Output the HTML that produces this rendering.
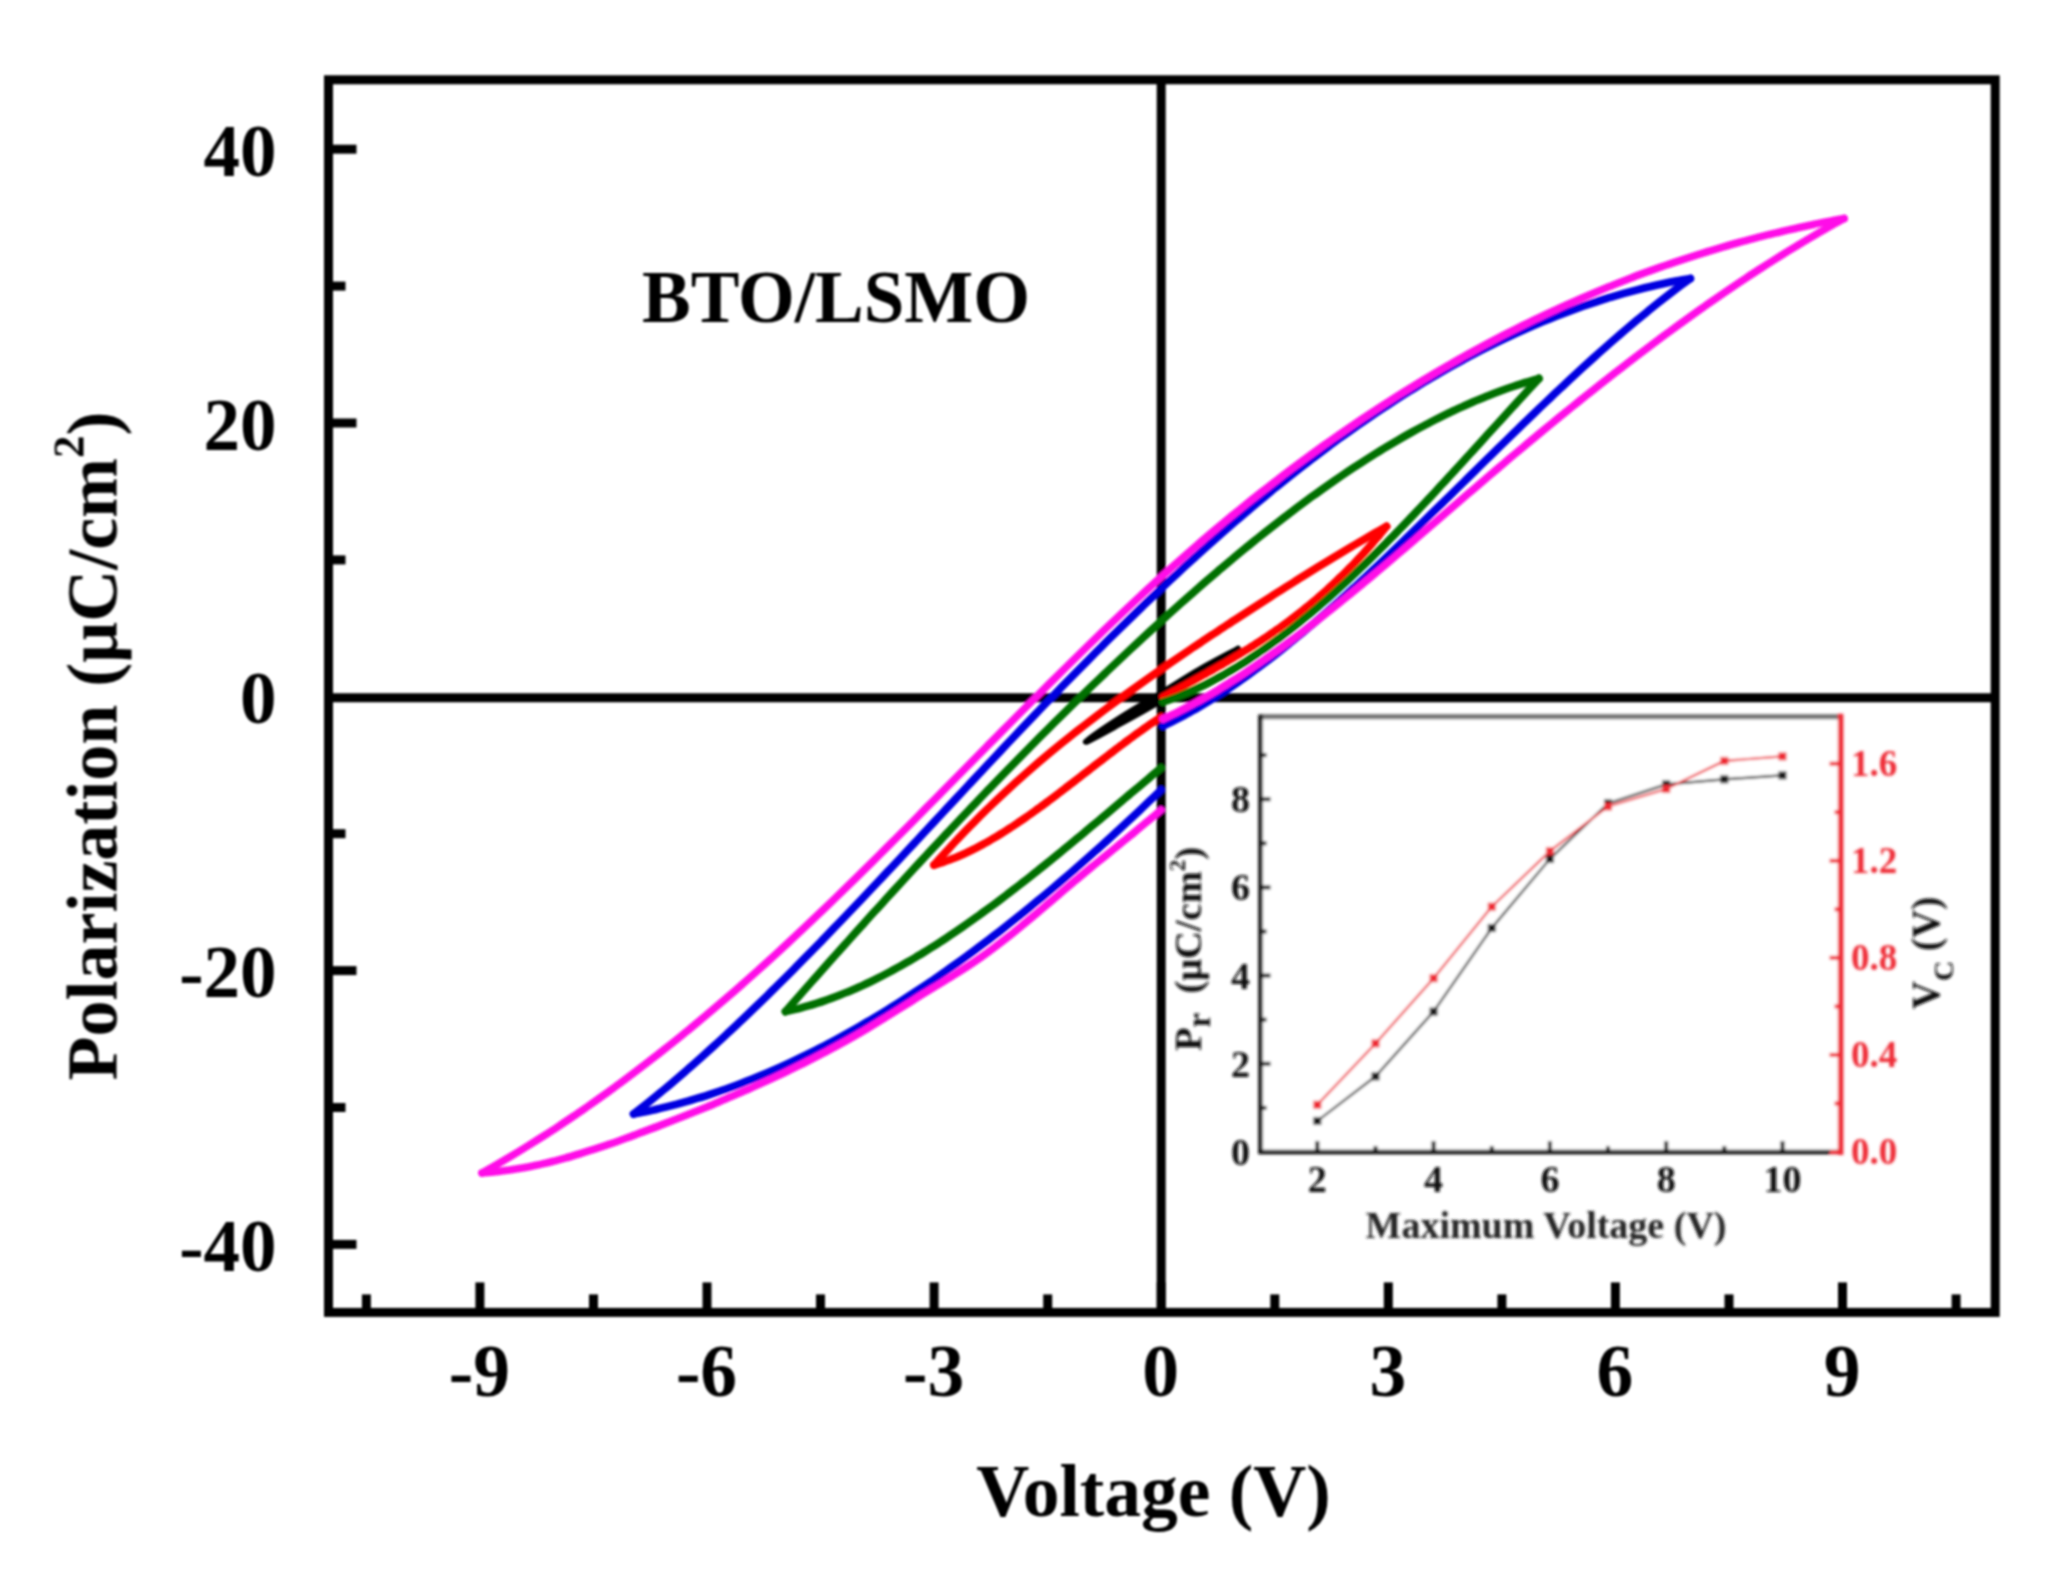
<!DOCTYPE html>
<html lang="en"><head><meta charset="utf-8"><title>BTO/LSMO P-V hysteresis loops</title>
<style>
html,body{margin:0;padding:0;background:#fff;}
body{width:2060px;height:1576px;overflow:hidden;}
svg{display:block;}
</style></head><body>
<svg width="2060" height="1576" viewBox="0 0 2060 1576">
<defs><filter id="b1" x="-2%" y="-2%" width="104%" height="104%"><feGaussianBlur stdDeviation="1.15"/></filter><filter id="b2" x="-5%" y="-5%" width="110%" height="110%"><feGaussianBlur stdDeviation="1.7"/></filter></defs>
<rect width="2060" height="1576" fill="#fff"/>
<g id="main" filter="url(#b1)" font-family="'Liberation Serif', 'DejaVu Serif', serif" font-weight="bold" fill="#000">
<g stroke="#000" stroke-width="9" fill="none">
<line x1="328.5" y1="697.7" x2="1995.2" y2="697.7"/>
<line x1="1161.2" y1="79.8" x2="1161.2" y2="1312.4"/>
<rect x="328.5" y="79.8" width="1666.7" height="1232.6"/>
<line x1="366.4" y1="1312.4" x2="366.4" y2="1294.4"/>
<line x1="479.9" y1="1312.4" x2="479.9" y2="1282.4"/>
<line x1="593.5" y1="1312.4" x2="593.5" y2="1294.4"/>
<line x1="707.0" y1="1312.4" x2="707.0" y2="1282.4"/>
<line x1="820.5" y1="1312.4" x2="820.5" y2="1294.4"/>
<line x1="934.1" y1="1312.4" x2="934.1" y2="1282.4"/>
<line x1="1047.7" y1="1312.4" x2="1047.7" y2="1294.4"/>
<line x1="1161.2" y1="1312.4" x2="1161.2" y2="1282.4"/>
<line x1="1274.8" y1="1312.4" x2="1274.8" y2="1294.4"/>
<line x1="1388.3" y1="1312.4" x2="1388.3" y2="1282.4"/>
<line x1="1501.9" y1="1312.4" x2="1501.9" y2="1294.4"/>
<line x1="1615.4" y1="1312.4" x2="1615.4" y2="1282.4"/>
<line x1="1729.0" y1="1312.4" x2="1729.0" y2="1294.4"/>
<line x1="1842.5" y1="1312.4" x2="1842.5" y2="1282.4"/>
<line x1="1956.1" y1="1312.4" x2="1956.1" y2="1294.4"/>
<line x1="328.5" y1="1244.4" x2="356.5" y2="1244.4"/>
<line x1="328.5" y1="1107.5" x2="345.5" y2="1107.5"/>
<line x1="328.5" y1="970.6" x2="356.5" y2="970.6"/>
<line x1="328.5" y1="833.7" x2="345.5" y2="833.7"/>
<line x1="328.5" y1="559.9" x2="345.5" y2="559.9"/>
<line x1="328.5" y1="423.0" x2="356.5" y2="423.0"/>
<line x1="328.5" y1="286.1" x2="345.5" y2="286.1"/>
<line x1="328.5" y1="149.2" x2="356.5" y2="149.2"/>
</g>
<g font-size="73.5" text-anchor="middle">
<text x="479.4" y="1395.5">-9</text>
<text x="706.5" y="1395.5">-6</text>
<text x="933.6" y="1395.5">-3</text>
<text x="1160.7" y="1395.5">0</text>
<text x="1387.8" y="1395.5">3</text>
<text x="1614.9" y="1395.5">6</text>
<text x="1842.0" y="1395.5">9</text>
</g>
<g font-size="73" text-anchor="end">
<text x="276.5" y="1270.9">-40</text>
<text x="276.5" y="997.1">-20</text>
<text x="276.5" y="723.3">0</text>
<text x="276.5" y="449.5">20</text>
<text x="276.5" y="175.7">40</text>
</g>
<text x="1153.6" y="1516" font-size="73.5" text-anchor="middle">Voltage (V)</text>
<text transform="translate(116.5 746) rotate(-90)" font-size="72" text-anchor="middle">Polarization (μC/cm<tspan font-size="45" dy="-33">2</tspan><tspan dy="33">)</tspan></text>
<text x="836" y="321.5" font-size="73" text-anchor="middle">BTO/LSMO</text>
<g id="curves">
<path d="M1238.0 649.0 C1231.7 652.4 1212.8 662.1 1200.0 669.5 C1187.2 676.9 1174.0 685.6 1161.0 693.5 C1148.0 701.4 1134.5 709.0 1122.0 717.0 C1109.5 725.0 1086.0 740.6 1086.0 741.5 C1086.0 742.4 1109.5 729.3 1122.0 722.5 C1134.5 715.7 1148.0 708.2 1161.0 700.5 C1174.0 692.8 1187.2 684.6 1200.0 676.0 C1212.8 667.4 1231.7 653.5 1238.0 649.0" stroke="#000" stroke-width="6.5" stroke-linejoin="round" stroke-linecap="round" fill="#000"/>
<path d="M1386.5 526.4 C1384.6 527.5 1378.8 530.8 1374.9 533.0 C1371.0 535.3 1367.2 537.5 1363.3 539.8 C1359.4 542.0 1355.6 544.3 1351.7 546.6 C1347.8 548.9 1344.0 551.2 1340.1 553.6 C1336.2 555.9 1332.4 558.2 1328.5 560.6 C1324.6 563.0 1320.8 565.3 1316.9 567.7 C1313.0 570.1 1309.1 572.5 1305.3 574.9 C1301.4 577.3 1297.5 579.7 1293.7 582.2 C1289.8 584.6 1285.9 587.1 1282.1 589.5 C1278.2 592.0 1274.3 594.4 1270.5 596.9 C1266.6 599.4 1262.7 601.9 1258.9 604.4 C1255.0 606.9 1251.1 609.4 1247.3 611.9 C1243.4 614.4 1239.5 616.9 1235.7 619.4 C1231.8 621.9 1227.9 624.5 1224.1 627.0 C1220.2 629.5 1216.3 632.1 1212.5 634.6 C1208.6 637.2 1204.7 639.8 1200.9 642.4 C1197.0 644.9 1193.1 647.5 1189.3 650.1 C1185.4 652.8 1181.5 655.4 1177.7 658.0 C1173.8 660.6 1169.9 663.3 1166.1 666.0 C1162.2 668.6 1158.3 671.3 1154.4 674.0 C1150.6 676.7 1146.7 679.4 1142.8 682.2 C1139.0 684.9 1135.1 687.7 1131.2 690.5 C1127.4 693.2 1123.5 696.0 1119.6 698.9 C1115.8 701.7 1111.9 704.5 1108.0 707.4 C1104.2 710.3 1100.3 713.2 1096.4 716.1 C1092.6 719.0 1088.7 722.0 1084.8 725.0 C1081.0 727.9 1077.1 731.0 1073.2 734.0 C1069.4 737.1 1065.5 740.2 1061.6 743.3 C1057.8 746.4 1053.9 749.6 1050.0 752.8 C1046.2 756.0 1042.3 759.3 1038.4 762.6 C1034.6 765.9 1030.7 769.2 1026.8 772.6 C1023.0 776.0 1019.1 779.4 1015.2 782.9 C1011.4 786.4 1007.5 790.0 1003.6 793.6 C999.7 797.2 995.9 800.8 992.0 804.5 C988.1 808.2 984.3 812.0 980.4 815.8 C976.5 819.7 972.7 823.6 968.8 827.5 C964.9 831.5 961.1 835.5 957.2 839.6 C953.3 843.7 949.5 847.9 945.6 852.1 C941.7 856.3 935.9 862.8 934.0 865.0 " fill="none" stroke="#ff0000" stroke-width="7.8" stroke-linejoin="round" stroke-linecap="round" />
<path d="M934.0 865.0 C934.8 864.8 937.1 864.1 938.6 863.6 C940.2 863.2 941.7 862.7 943.3 862.1 C944.8 861.6 946.4 861.1 947.9 860.5 C949.4 859.9 951.0 859.3 952.5 858.7 C954.1 858.1 955.6 857.5 957.2 856.9 C958.7 856.2 960.3 855.5 961.8 854.9 C963.3 854.2 964.9 853.5 966.4 852.7 C968.0 852.0 969.5 851.3 971.1 850.5 C972.6 849.8 974.1 849.0 975.7 848.2 C977.2 847.4 978.8 846.6 980.3 845.8 C981.9 844.9 983.4 844.1 985.0 843.2 C986.5 842.4 988.0 841.5 989.6 840.6 C991.1 839.7 992.7 838.8 994.2 837.9 C995.8 837.0 997.3 836.1 998.9 835.1 C1000.4 834.2 1001.9 833.2 1003.5 832.2 C1005.0 831.3 1006.6 830.3 1008.1 829.3 C1009.7 828.3 1011.2 827.3 1012.8 826.3 C1014.3 825.3 1015.8 824.2 1017.4 823.2 C1018.9 822.1 1020.5 821.1 1022.0 820.0 C1023.6 819.0 1025.1 817.9 1026.7 816.8 C1028.2 815.7 1029.7 814.7 1031.3 813.6 C1032.8 812.5 1034.4 811.4 1035.9 810.2 C1037.5 809.1 1039.0 808.0 1040.6 806.9 C1042.1 805.7 1043.6 804.6 1045.2 803.5 C1046.7 802.3 1048.3 801.2 1049.8 800.0 C1051.4 798.9 1052.9 797.7 1054.4 796.6 C1056.0 795.4 1057.5 794.2 1059.1 793.0 C1060.6 791.9 1062.2 790.7 1063.7 789.5 C1065.3 788.3 1066.8 787.1 1068.3 786.0 C1069.9 784.8 1071.4 783.6 1073.0 782.4 C1074.5 781.2 1076.1 780.0 1077.6 778.8 C1079.2 777.6 1080.7 776.4 1082.2 775.2 C1083.8 774.0 1085.3 772.8 1086.9 771.6 C1088.4 770.4 1090.0 769.2 1091.5 768.0 C1093.1 766.8 1094.6 765.6 1096.1 764.4 C1097.7 763.2 1099.2 762.1 1100.8 760.9 C1102.3 759.7 1103.9 758.5 1105.4 757.3 C1107.0 756.1 1108.5 754.9 1110.0 753.7 C1111.6 752.6 1113.1 751.4 1114.7 750.2 C1116.2 749.0 1117.8 747.9 1119.3 746.7 C1120.9 745.5 1122.4 744.4 1123.9 743.2 C1125.5 742.1 1127.0 740.9 1128.6 739.8 C1130.1 738.6 1131.7 737.5 1133.2 736.4 C1134.7 735.3 1136.3 734.1 1137.8 733.0 C1139.4 731.9 1140.9 730.8 1142.5 729.7 C1144.0 728.6 1145.6 727.5 1147.1 726.4 C1148.6 725.4 1150.2 724.3 1151.7 723.2 C1153.3 722.2 1154.8 721.1 1156.4 720.1 C1157.9 719.0 1160.2 717.5 1161.0 717.0" fill="none" stroke="#ff0000" stroke-width="7.8" stroke-linejoin="round" stroke-linecap="round" />
<path d="M1163.0 697.0 C1163.8 696.6 1166.0 695.3 1167.6 694.5 C1169.1 693.7 1170.6 692.9 1172.1 692.0 C1173.6 691.2 1175.2 690.4 1176.7 689.6 C1178.2 688.7 1179.7 687.9 1181.2 687.1 C1182.8 686.3 1184.3 685.4 1185.8 684.6 C1187.3 683.8 1188.8 683.0 1190.4 682.1 C1191.9 681.3 1193.4 680.5 1194.9 679.6 C1196.4 678.8 1198.0 678.0 1199.5 677.1 C1201.0 676.3 1202.5 675.4 1204.1 674.6 C1205.6 673.7 1207.1 672.9 1208.6 672.0 C1210.1 671.2 1211.7 670.3 1213.2 669.5 C1214.7 668.6 1216.2 667.7 1217.7 666.9 C1219.3 666.0 1220.8 665.1 1222.3 664.3 C1223.8 663.4 1225.3 662.5 1226.9 661.6 C1228.4 660.7 1229.9 659.8 1231.4 658.9 C1232.9 658.0 1234.5 657.1 1236.0 656.2 C1237.5 655.3 1239.0 654.4 1240.5 653.4 C1242.1 652.5 1243.6 651.6 1245.1 650.6 C1246.6 649.7 1248.1 648.7 1249.7 647.8 C1251.2 646.8 1252.7 645.9 1254.2 644.9 C1255.7 643.9 1257.3 642.9 1258.8 641.9 C1260.3 640.9 1261.8 639.9 1263.3 638.9 C1264.9 637.9 1266.4 636.9 1267.9 635.9 C1269.4 634.8 1270.9 633.8 1272.5 632.7 C1274.0 631.7 1275.5 630.6 1277.0 629.6 C1278.6 628.5 1280.1 627.4 1281.6 626.3 C1283.1 625.2 1284.6 624.1 1286.2 623.0 C1287.7 621.9 1289.2 620.7 1290.7 619.6 C1292.2 618.4 1293.8 617.3 1295.3 616.1 C1296.8 614.9 1298.3 613.8 1299.8 612.6 C1301.4 611.4 1302.9 610.2 1304.4 608.9 C1305.9 607.7 1307.4 606.5 1309.0 605.2 C1310.5 604.0 1312.0 602.7 1313.5 601.4 C1315.0 600.1 1316.6 598.9 1318.1 597.5 C1319.6 596.2 1321.1 594.9 1322.6 593.6 C1324.2 592.2 1325.7 590.9 1327.2 589.5 C1328.7 588.1 1330.2 586.7 1331.8 585.3 C1333.3 583.9 1334.8 582.5 1336.3 581.0 C1337.8 579.6 1339.4 578.1 1340.9 576.6 C1342.4 575.2 1343.9 573.7 1345.4 572.2 C1347.0 570.6 1348.5 569.1 1350.0 567.5 C1351.5 566.0 1353.1 564.4 1354.6 562.8 C1356.1 561.2 1357.6 559.6 1359.1 558.0 C1360.7 556.4 1362.2 554.7 1363.7 553.1 C1365.2 551.4 1366.7 549.7 1368.3 548.0 C1369.8 546.3 1371.3 544.5 1372.8 542.8 C1374.3 541.0 1375.9 539.2 1377.4 537.5 C1378.9 535.7 1380.4 533.8 1381.9 532.0 C1383.5 530.2 1385.7 527.3 1386.5 526.4" fill="none" stroke="#ff0000" stroke-width="7.8" stroke-linejoin="round" stroke-linecap="round" />
<path d="M1539.0 378.5 C1536.9 379.1 1530.5 380.9 1526.2 382.2 C1522.0 383.6 1517.7 384.9 1513.5 386.4 C1509.2 387.8 1504.9 389.3 1500.7 390.9 C1496.4 392.5 1492.2 394.1 1487.9 395.8 C1483.7 397.5 1479.4 399.2 1475.1 401.0 C1470.9 402.9 1466.6 404.7 1462.4 406.7 C1458.1 408.6 1453.9 410.6 1449.6 412.6 C1445.3 414.7 1441.1 416.8 1436.8 418.9 C1432.6 421.1 1428.3 423.3 1424.1 425.6 C1419.8 427.8 1415.5 430.1 1411.3 432.5 C1407.0 434.9 1402.8 437.3 1398.5 439.8 C1394.3 442.3 1390.0 444.8 1385.7 447.4 C1381.5 449.9 1377.2 452.6 1373.0 455.2 C1368.7 457.9 1364.5 460.6 1360.2 463.4 C1355.9 466.2 1351.7 469.0 1347.4 471.8 C1343.2 474.7 1338.9 477.6 1334.7 480.5 C1330.4 483.5 1326.1 486.5 1321.9 489.5 C1317.6 492.5 1313.4 495.6 1309.1 498.7 C1304.9 501.8 1300.6 505.0 1296.3 508.2 C1292.1 511.4 1287.8 514.6 1283.6 517.9 C1279.3 521.2 1275.1 524.5 1270.8 527.8 C1266.5 531.2 1262.3 534.6 1258.0 538.0 C1253.8 541.4 1249.5 544.8 1245.3 548.3 C1241.0 551.8 1236.7 555.3 1232.5 558.9 C1228.2 562.4 1224.0 566.0 1219.7 569.6 C1215.5 573.2 1211.2 576.9 1206.9 580.5 C1202.7 584.2 1198.4 587.9 1194.2 591.7 C1189.9 595.4 1185.7 599.1 1181.4 602.9 C1177.1 606.7 1172.9 610.5 1168.6 614.3 C1164.4 618.2 1160.1 622.0 1155.9 625.9 C1151.6 629.8 1147.4 633.7 1143.1 637.6 C1138.8 641.6 1134.6 645.5 1130.3 649.5 C1126.1 653.5 1121.8 657.5 1117.6 661.5 C1113.3 665.5 1109.0 669.5 1104.8 673.6 C1100.5 677.7 1096.3 681.7 1092.0 685.8 C1087.8 689.9 1083.5 694.1 1079.2 698.2 C1075.0 702.4 1070.7 706.5 1066.5 710.7 C1062.2 714.9 1058.0 719.1 1053.7 723.3 C1049.4 727.6 1045.2 731.8 1040.9 736.1 C1036.7 740.4 1032.4 744.6 1028.2 748.9 C1023.9 753.2 1019.6 757.6 1015.4 761.9 C1011.1 766.3 1006.9 770.6 1002.6 775.0 C998.4 779.4 994.1 783.8 989.8 788.2 C985.6 792.6 981.3 797.0 977.1 801.5 C972.8 805.9 968.6 810.4 964.3 814.9 C960.0 819.4 955.8 823.9 951.5 828.4 C947.3 832.9 943.0 837.4 938.8 842.0 C934.5 846.5 930.2 851.1 926.0 855.6 C921.7 860.2 917.5 864.8 913.2 869.4 C909.0 874.0 904.7 878.6 900.4 883.3 C896.2 887.9 891.9 892.6 887.7 897.2 C883.4 901.9 879.2 906.6 874.9 911.2 C870.6 915.9 866.4 920.6 862.1 925.4 C857.9 930.1 853.6 934.8 849.4 939.5 C845.1 944.3 840.8 949.0 836.6 953.8 C832.3 958.6 828.1 963.3 823.8 968.1 C819.6 972.9 815.3 977.7 811.0 982.5 C806.8 987.3 802.5 992.1 798.3 997.0 C794.0 1001.8 787.6 1009.1 785.5 1011.5" fill="none" stroke="#007000" stroke-width="7.8" stroke-linejoin="round" stroke-linecap="round" />
<path d="M785.5 1011.5 C786.8 1011.2 790.6 1010.4 793.2 1009.8 C795.7 1009.2 798.3 1008.6 800.8 1007.9 C803.4 1007.2 805.9 1006.5 808.5 1005.8 C811.0 1005.1 813.6 1004.3 816.2 1003.5 C818.7 1002.7 821.3 1001.9 823.8 1001.0 C826.4 1000.1 828.9 999.2 831.5 998.3 C834.0 997.4 836.6 996.4 839.1 995.4 C841.7 994.4 844.3 993.4 846.8 992.3 C849.4 991.3 851.9 990.2 854.5 989.1 C857.0 988.0 859.6 986.8 862.1 985.7 C864.7 984.5 867.2 983.3 869.8 982.1 C872.4 980.8 874.9 979.6 877.5 978.3 C880.0 977.0 882.6 975.7 885.1 974.4 C887.7 973.1 890.2 971.7 892.8 970.3 C895.3 968.9 897.9 967.5 900.4 966.1 C903.0 964.7 905.6 963.2 908.1 961.7 C910.7 960.3 913.2 958.8 915.8 957.2 C918.3 955.7 920.9 954.2 923.4 952.6 C926.0 951.0 928.5 949.4 931.1 947.8 C933.7 946.2 936.2 944.6 938.8 942.9 C941.3 941.3 943.9 939.6 946.4 937.9 C949.0 936.2 951.5 934.5 954.1 932.8 C956.6 931.1 959.2 929.3 961.8 927.5 C964.3 925.8 966.9 924.0 969.4 922.2 C972.0 920.4 974.5 918.6 977.1 916.7 C979.6 914.9 982.2 913.1 984.7 911.2 C987.3 909.3 989.9 907.4 992.4 905.6 C995.0 903.7 997.5 901.8 1000.1 899.8 C1002.6 897.9 1005.2 896.0 1007.7 894.0 C1010.3 892.1 1012.8 890.1 1015.4 888.1 C1018.0 886.2 1020.5 884.2 1023.1 882.2 C1025.6 880.2 1028.2 878.2 1030.7 876.2 C1033.3 874.1 1035.8 872.1 1038.4 870.1 C1040.9 868.0 1043.5 866.0 1046.1 863.9 C1048.6 861.9 1051.2 859.8 1053.7 857.7 C1056.3 855.6 1058.8 853.6 1061.4 851.5 C1063.9 849.4 1066.5 847.3 1069.0 845.2 C1071.6 843.1 1074.1 841.0 1076.7 838.8 C1079.3 836.7 1081.8 834.6 1084.4 832.5 C1086.9 830.3 1089.5 828.2 1092.0 826.1 C1094.6 823.9 1097.1 821.8 1099.7 819.7 C1102.2 817.5 1104.8 815.4 1107.4 813.2 C1109.9 811.1 1112.5 808.9 1115.0 806.8 C1117.6 804.6 1120.1 802.5 1122.7 800.3 C1125.2 798.1 1127.8 796.0 1130.3 793.8 C1132.9 791.7 1135.5 789.5 1138.0 787.4 C1140.6 785.2 1143.1 783.1 1145.7 780.9 C1148.2 778.7 1150.8 776.6 1153.3 774.4 C1155.9 772.3 1159.7 769.1 1161.0 768.0" fill="none" stroke="#007000" stroke-width="7.8" stroke-linejoin="round" stroke-linecap="round" />
<path d="M1163.0 702.0 C1164.3 701.6 1168.1 700.3 1170.7 699.4 C1173.2 698.5 1175.8 697.5 1178.3 696.5 C1180.9 695.5 1183.5 694.5 1186.0 693.4 C1188.6 692.3 1191.1 691.2 1193.7 690.1 C1196.3 688.9 1198.8 687.7 1201.4 686.5 C1203.9 685.3 1206.5 684.0 1209.0 682.7 C1211.6 681.4 1214.2 680.0 1216.7 678.6 C1219.3 677.3 1221.8 675.8 1224.4 674.4 C1226.9 672.9 1229.5 671.5 1232.1 669.9 C1234.6 668.4 1237.2 666.9 1239.7 665.3 C1242.3 663.7 1244.9 662.1 1247.4 660.4 C1250.0 658.7 1252.5 657.0 1255.1 655.3 C1257.6 653.6 1260.2 651.8 1262.8 650.1 C1265.3 648.3 1267.9 646.5 1270.4 644.6 C1273.0 642.8 1275.5 640.9 1278.1 639.0 C1280.7 637.1 1283.2 635.1 1285.8 633.2 C1288.3 631.2 1290.9 629.2 1293.4 627.2 C1296.0 625.2 1298.6 623.1 1301.1 621.0 C1303.7 618.9 1306.2 616.8 1308.8 614.7 C1311.4 612.6 1313.9 610.4 1316.5 608.2 C1319.0 606.0 1321.6 603.8 1324.1 601.6 C1326.7 599.4 1329.3 597.1 1331.8 594.8 C1334.4 592.5 1336.9 590.2 1339.5 587.9 C1342.0 585.6 1344.6 583.2 1347.2 580.8 C1349.7 578.5 1352.3 576.1 1354.8 573.7 C1357.4 571.2 1360.0 568.8 1362.5 566.3 C1365.1 563.9 1367.6 561.4 1370.2 558.9 C1372.7 556.4 1375.3 553.9 1377.9 551.3 C1380.4 548.8 1383.0 546.2 1385.5 543.7 C1388.1 541.1 1390.6 538.5 1393.2 535.9 C1395.8 533.3 1398.3 530.6 1400.9 528.0 C1403.4 525.4 1406.0 522.7 1408.6 520.0 C1411.1 517.4 1413.7 514.7 1416.2 512.0 C1418.8 509.3 1421.3 506.6 1423.9 503.8 C1426.5 501.1 1429.0 498.4 1431.6 495.7 C1434.1 492.9 1436.7 490.2 1439.2 487.4 C1441.8 484.6 1444.4 481.9 1446.9 479.1 C1449.5 476.3 1452.0 473.5 1454.6 470.8 C1457.1 468.0 1459.7 465.2 1462.3 462.4 C1464.8 459.6 1467.4 456.8 1469.9 454.0 C1472.5 451.2 1475.1 448.4 1477.6 445.6 C1480.2 442.8 1482.7 439.9 1485.3 437.1 C1487.8 434.3 1490.4 431.5 1493.0 428.7 C1495.5 425.9 1498.1 423.1 1500.6 420.3 C1503.2 417.5 1505.7 414.7 1508.3 411.9 C1510.9 409.1 1513.4 406.3 1516.0 403.5 C1518.5 400.7 1521.1 397.9 1523.7 395.1 C1526.2 392.3 1528.8 389.5 1531.3 386.8 C1533.9 384.0 1537.7 379.9 1539.0 378.5" fill="none" stroke="#007000" stroke-width="7.8" stroke-linejoin="round" stroke-linecap="round" />
<path d="M1690.3 278.5 C1688.1 278.9 1681.4 280.0 1676.9 280.9 C1672.5 281.7 1668.0 282.6 1663.5 283.6 C1659.1 284.5 1654.6 285.5 1650.2 286.6 C1645.7 287.6 1641.3 288.7 1636.8 289.9 C1632.3 291.1 1627.9 292.3 1623.4 293.5 C1619.0 294.8 1614.5 296.1 1610.0 297.4 C1605.6 298.8 1601.1 300.2 1596.7 301.7 C1592.2 303.1 1587.8 304.6 1583.3 306.2 C1578.8 307.8 1574.4 309.4 1569.9 311.0 C1565.5 312.7 1561.0 314.4 1556.5 316.1 C1552.1 317.9 1547.6 319.7 1543.2 321.5 C1538.7 323.4 1534.2 325.3 1529.8 327.2 C1525.3 329.2 1520.9 331.2 1516.4 333.2 C1512.0 335.3 1507.5 337.4 1503.0 339.5 C1498.6 341.6 1494.1 343.8 1489.7 346.1 C1485.2 348.3 1480.7 350.6 1476.3 352.9 C1471.8 355.2 1467.4 357.6 1462.9 360.0 C1458.5 362.4 1454.0 364.9 1449.5 367.4 C1445.1 369.9 1440.6 372.5 1436.2 375.1 C1431.7 377.7 1427.2 380.3 1422.8 383.0 C1418.3 385.7 1413.9 388.5 1409.4 391.2 C1404.9 394.0 1400.5 396.8 1396.0 399.7 C1391.6 402.6 1387.1 405.5 1382.7 408.5 C1378.2 411.4 1373.7 414.4 1369.3 417.5 C1364.8 420.5 1360.4 423.6 1355.9 426.7 C1351.4 429.9 1347.0 433.0 1342.5 436.2 C1338.1 439.5 1333.6 442.7 1329.1 446.0 C1324.7 449.3 1320.2 452.7 1315.8 456.1 C1311.3 459.4 1306.9 462.9 1302.4 466.3 C1297.9 469.8 1293.5 473.3 1289.0 476.9 C1284.6 480.4 1280.1 484.0 1275.6 487.6 C1271.2 491.3 1266.7 494.9 1262.3 498.7 C1257.8 502.4 1253.4 506.1 1248.9 509.9 C1244.4 513.7 1240.0 517.5 1235.5 521.4 C1231.1 525.2 1226.6 529.1 1222.1 533.0 C1217.7 536.9 1213.2 540.9 1208.8 544.9 C1204.3 548.9 1199.8 552.9 1195.4 557.0 C1190.9 561.0 1186.5 565.1 1182.0 569.2 C1177.6 573.4 1173.1 577.5 1168.6 581.7 C1164.2 585.9 1159.7 590.1 1155.3 594.3 C1150.8 598.6 1146.3 602.8 1141.9 607.1 C1137.4 611.4 1133.0 615.8 1128.5 620.1 C1124.1 624.4 1119.6 628.8 1115.1 633.2 C1110.7 637.6 1106.2 642.0 1101.8 646.5 C1097.3 650.9 1092.8 655.4 1088.4 659.9 C1083.9 664.4 1079.5 668.9 1075.0 673.4 C1070.5 678.0 1066.1 682.5 1061.6 687.1 C1057.2 691.7 1052.7 696.3 1048.3 700.9 C1043.8 705.5 1039.3 710.2 1034.9 714.8 C1030.4 719.5 1026.0 724.1 1021.5 728.8 C1017.0 733.5 1012.6 738.2 1008.1 742.9 C1003.7 747.6 999.2 752.4 994.8 757.1 C990.3 761.8 985.8 766.6 981.4 771.4 C976.9 776.1 972.5 780.9 968.0 785.6 C963.5 790.4 959.1 795.2 954.6 800.0 C950.2 804.7 945.7 809.5 941.2 814.3 C936.8 819.1 932.3 823.9 927.9 828.7 C923.4 833.4 919.0 838.2 914.5 843.0 C910.0 847.8 905.6 852.5 901.1 857.3 C896.7 862.0 892.2 866.8 887.7 871.5 C883.3 876.3 878.8 881.0 874.4 885.7 C869.9 890.5 865.4 895.2 861.0 899.9 C856.5 904.6 852.1 909.2 847.6 913.9 C843.2 918.6 838.7 923.2 834.2 927.8 C829.8 932.5 825.3 937.1 820.9 941.7 C816.4 946.2 811.9 950.8 807.5 955.3 C803.0 959.9 798.6 964.4 794.1 968.9 C789.7 973.3 785.2 977.8 780.7 982.2 C776.3 986.7 771.8 991.0 767.4 995.4 C762.9 999.8 758.4 1004.1 754.0 1008.4 C749.5 1012.7 745.1 1017.0 740.6 1021.2 C736.1 1025.4 731.7 1029.6 727.2 1033.7 C722.8 1037.9 718.3 1042.0 713.9 1046.0 C709.4 1050.1 704.9 1054.1 700.5 1058.1 C696.0 1062.1 691.6 1066.0 687.1 1069.9 C682.6 1073.8 678.2 1077.6 673.7 1081.4 C669.3 1085.2 664.8 1088.9 660.4 1092.6 C655.9 1096.3 651.4 1099.9 647.0 1103.5 C642.5 1107.0 635.8 1112.2 633.6 1114.0" fill="none" stroke="#0000e0" stroke-width="7.8" stroke-linejoin="round" stroke-linecap="round" />
<path d="M633.6 1114.0 C635.4 1113.6 640.8 1112.6 644.4 1111.9 C648.0 1111.2 651.5 1110.4 655.1 1109.6 C658.7 1108.8 662.3 1107.9 665.9 1107.0 C669.5 1106.1 673.1 1105.2 676.7 1104.3 C680.2 1103.3 683.8 1102.3 687.4 1101.3 C691.0 1100.3 694.6 1099.2 698.2 1098.1 C701.8 1097.0 705.4 1095.9 708.9 1094.7 C712.5 1093.5 716.1 1092.3 719.7 1091.1 C723.3 1089.9 726.9 1088.6 730.5 1087.3 C734.1 1086.0 737.6 1084.7 741.2 1083.3 C744.8 1081.9 748.4 1080.5 752.0 1079.1 C755.6 1077.6 759.2 1076.2 762.8 1074.7 C766.3 1073.2 769.9 1071.6 773.5 1070.0 C777.1 1068.5 780.7 1066.9 784.3 1065.2 C787.9 1063.6 791.5 1061.9 795.0 1060.2 C798.6 1058.5 802.2 1056.8 805.8 1055.1 C809.4 1053.3 813.0 1051.5 816.6 1049.7 C820.2 1047.8 823.8 1046.0 827.3 1044.1 C830.9 1042.2 834.5 1040.3 838.1 1038.4 C841.7 1036.4 845.3 1034.4 848.9 1032.4 C852.5 1030.4 856.0 1028.4 859.6 1026.3 C863.2 1024.2 866.8 1022.1 870.4 1020.0 C874.0 1017.9 877.6 1015.7 881.2 1013.5 C884.7 1011.4 888.3 1009.1 891.9 1006.9 C895.5 1004.6 899.1 1002.4 902.7 1000.1 C906.3 997.8 909.9 995.4 913.4 993.1 C917.0 990.7 920.6 988.3 924.2 985.9 C927.8 983.5 931.4 981.1 935.0 978.6 C938.6 976.1 942.1 973.6 945.7 971.1 C949.3 968.6 952.9 966.0 956.5 963.5 C960.1 960.9 963.7 958.3 967.3 955.7 C970.8 953.0 974.4 950.4 978.0 947.7 C981.6 945.0 985.2 942.3 988.8 939.6 C992.4 936.8 996.0 934.1 999.6 931.3 C1003.1 928.5 1006.7 925.7 1010.3 922.8 C1013.9 920.0 1017.5 917.2 1021.1 914.3 C1024.7 911.4 1028.3 908.5 1031.8 905.5 C1035.4 902.6 1039.0 899.6 1042.6 896.7 C1046.2 893.7 1049.8 890.7 1053.4 887.6 C1057.0 884.6 1060.5 881.6 1064.1 878.5 C1067.7 875.4 1071.3 872.3 1074.9 869.2 C1078.5 866.1 1082.1 862.9 1085.7 859.7 C1089.2 856.6 1092.8 853.4 1096.4 850.2 C1100.0 847.0 1103.6 843.7 1107.2 840.5 C1110.8 837.2 1114.4 833.9 1117.9 830.6 C1121.5 827.3 1125.1 824.0 1128.7 820.7 C1132.3 817.3 1135.9 814.0 1139.5 810.6 C1143.1 807.2 1146.6 803.8 1150.2 800.3 C1153.8 796.9 1159.2 791.7 1161.0 790.0" fill="none" stroke="#0000e0" stroke-width="7.8" stroke-linejoin="round" stroke-linecap="round" />
<path d="M1163.0 726.0 C1164.8 725.1 1170.2 722.6 1173.8 720.8 C1177.3 719.0 1180.9 717.1 1184.5 715.2 C1188.1 713.3 1191.7 711.3 1195.3 709.3 C1198.9 707.2 1202.5 705.1 1206.0 703.0 C1209.6 700.8 1213.2 698.6 1216.8 696.3 C1220.4 694.0 1224.0 691.7 1227.6 689.3 C1231.2 686.9 1234.7 684.5 1238.3 682.0 C1241.9 679.5 1245.5 677.0 1249.1 674.4 C1252.7 671.8 1256.3 669.2 1259.9 666.5 C1263.4 663.8 1267.0 661.1 1270.6 658.3 C1274.2 655.6 1277.8 652.8 1281.4 649.9 C1285.0 647.1 1288.5 644.2 1292.1 641.3 C1295.7 638.3 1299.3 635.4 1302.9 632.4 C1306.5 629.4 1310.1 626.3 1313.7 623.3 C1317.2 620.2 1320.8 617.1 1324.4 614.0 C1328.0 610.8 1331.6 607.7 1335.2 604.5 C1338.8 601.3 1342.4 598.1 1345.9 594.8 C1349.5 591.6 1353.1 588.3 1356.7 585.0 C1360.3 581.7 1363.9 578.4 1367.5 575.0 C1371.1 571.7 1374.6 568.3 1378.2 565.0 C1381.8 561.6 1385.4 558.2 1389.0 554.8 C1392.6 551.3 1396.2 547.9 1399.7 544.5 C1403.3 541.0 1406.9 537.6 1410.5 534.1 C1414.1 530.6 1417.7 527.1 1421.3 523.6 C1424.9 520.2 1428.4 516.7 1432.0 513.1 C1435.6 509.6 1439.2 506.1 1442.8 502.6 C1446.4 499.1 1450.0 495.6 1453.6 492.0 C1457.1 488.5 1460.7 485.0 1464.3 481.5 C1467.9 477.9 1471.5 474.4 1475.1 470.9 C1478.7 467.3 1482.2 463.8 1485.8 460.3 C1489.4 456.8 1493.0 453.3 1496.6 449.7 C1500.2 446.2 1503.8 442.7 1507.4 439.2 C1510.9 435.7 1514.5 432.2 1518.1 428.8 C1521.7 425.3 1525.3 421.8 1528.9 418.4 C1532.5 414.9 1536.1 411.5 1539.6 408.0 C1543.2 404.6 1546.8 401.2 1550.4 397.8 C1554.0 394.4 1557.6 391.0 1561.2 387.7 C1564.8 384.3 1568.3 380.9 1571.9 377.6 C1575.5 374.3 1579.1 371.0 1582.7 367.7 C1586.3 364.4 1589.9 361.2 1593.4 358.0 C1597.0 354.7 1600.6 351.5 1604.2 348.4 C1607.8 345.2 1611.4 342.0 1615.0 338.9 C1618.6 335.8 1622.1 332.7 1625.7 329.6 C1629.3 326.6 1632.9 323.6 1636.5 320.6 C1640.1 317.6 1643.7 314.6 1647.3 311.7 C1650.8 308.8 1654.4 305.9 1658.0 303.0 C1661.6 300.2 1665.2 297.4 1668.8 294.6 C1672.4 291.8 1676.0 289.1 1679.5 286.4 C1683.1 283.7 1688.5 279.8 1690.3 278.5" fill="none" stroke="#0000e0" stroke-width="7.8" stroke-linejoin="round" stroke-linecap="round" />
<path d="M1844.1 218.5 C1841.5 219.0 1833.9 220.4 1828.8 221.4 C1823.7 222.3 1818.6 223.4 1813.5 224.4 C1808.4 225.5 1803.3 226.6 1798.2 227.7 C1793.1 228.8 1788.0 230.0 1782.9 231.2 C1777.8 232.4 1772.7 233.6 1767.6 234.9 C1762.5 236.2 1757.4 237.5 1752.3 238.9 C1747.2 240.2 1742.1 241.6 1737.0 243.0 C1731.9 244.4 1726.8 245.9 1721.7 247.4 C1716.6 248.9 1711.5 250.4 1706.4 252.0 C1701.3 253.6 1696.2 255.2 1691.1 256.8 C1686.0 258.5 1680.9 260.2 1675.8 261.9 C1670.6 263.6 1665.5 265.4 1660.4 267.2 C1655.3 269.0 1650.2 270.9 1645.1 272.7 C1640.0 274.6 1634.9 276.5 1629.8 278.5 C1624.7 280.5 1619.6 282.5 1614.5 284.5 C1609.4 286.5 1604.3 288.6 1599.2 290.7 C1594.1 292.9 1589.0 295.0 1583.9 297.2 C1578.8 299.4 1573.7 301.6 1568.6 303.9 C1563.5 306.2 1558.4 308.5 1553.3 310.9 C1548.2 313.2 1543.1 315.6 1538.0 318.1 C1532.9 320.5 1527.8 323.0 1522.7 325.5 C1517.6 328.1 1512.5 330.6 1507.4 333.2 C1502.3 335.8 1497.2 338.5 1492.1 341.2 C1487.0 343.9 1481.9 346.6 1476.8 349.4 C1471.7 352.1 1466.6 354.9 1461.5 357.8 C1456.4 360.7 1451.3 363.6 1446.2 366.5 C1441.1 369.4 1436.0 372.4 1430.9 375.5 C1425.8 378.5 1420.7 381.6 1415.6 384.7 C1410.5 387.8 1405.4 390.9 1400.3 394.1 C1395.2 397.3 1390.1 400.6 1385.0 403.9 C1379.9 407.2 1374.8 410.5 1369.7 413.9 C1364.6 417.2 1359.5 420.6 1354.4 424.1 C1349.3 427.6 1344.2 431.1 1339.1 434.6 C1334.0 438.2 1328.8 441.8 1323.7 445.4 C1318.6 449.1 1313.5 452.7 1308.4 456.5 C1303.3 460.2 1298.2 464.0 1293.1 467.8 C1288.0 471.6 1282.9 475.5 1277.8 479.4 C1272.7 483.3 1267.6 487.3 1262.5 491.3 C1257.4 495.3 1252.3 499.3 1247.2 503.4 C1242.1 507.5 1237.0 511.7 1231.9 515.8 C1226.8 520.0 1221.7 524.3 1216.6 528.5 C1211.5 532.8 1206.4 537.1 1201.3 541.5 C1196.2 545.9 1191.1 550.3 1186.0 554.8 C1180.9 559.3 1175.8 563.8 1170.7 568.3 C1165.6 572.9 1160.5 577.5 1155.4 582.1 C1150.3 586.8 1145.2 591.5 1140.1 596.2 C1135.0 600.9 1129.9 605.7 1124.8 610.5 C1119.7 615.3 1114.6 620.2 1109.5 625.0 C1104.4 629.9 1099.3 634.8 1094.2 639.7 C1089.1 644.7 1084.0 649.6 1078.9 654.6 C1073.8 659.6 1068.7 664.6 1063.6 669.6 C1058.5 674.7 1053.4 679.7 1048.3 684.8 C1043.2 689.9 1038.1 695.0 1033.0 700.1 C1027.9 705.2 1022.8 710.3 1017.7 715.4 C1012.6 720.5 1007.5 725.7 1002.4 730.8 C997.3 736.0 992.1 741.2 987.0 746.3 C981.9 751.5 976.8 756.7 971.7 761.8 C966.6 767.0 961.5 772.2 956.4 777.3 C951.3 782.5 946.2 787.7 941.1 792.9 C936.0 798.0 930.9 803.2 925.8 808.3 C920.7 813.5 915.6 818.6 910.5 823.8 C905.4 828.9 900.3 834.0 895.2 839.1 C890.1 844.2 885.0 849.3 879.9 854.4 C874.8 859.4 869.7 864.5 864.6 869.5 C859.5 874.6 854.4 879.6 849.3 884.5 C844.2 889.5 839.1 894.5 834.0 899.4 C828.9 904.3 823.8 909.2 818.7 914.1 C813.6 919.0 808.5 923.8 803.4 928.6 C798.3 933.4 793.2 938.2 788.1 942.9 C783.0 947.6 777.9 952.3 772.8 957.0 C767.7 961.6 762.6 966.2 757.5 970.8 C752.4 975.4 747.3 979.9 742.2 984.4 C737.1 988.8 732.0 993.3 726.9 997.7 C721.8 1002.1 716.7 1006.4 711.6 1010.7 C706.5 1015.1 701.4 1019.3 696.3 1023.5 C691.2 1027.8 686.1 1031.9 681.0 1036.1 C675.9 1040.2 670.8 1044.3 665.7 1048.3 C660.6 1052.4 655.5 1056.4 650.3 1060.3 C645.2 1064.3 640.1 1068.2 635.0 1072.0 C629.9 1075.9 624.8 1079.7 619.7 1083.5 C614.6 1087.2 609.5 1091.0 604.4 1094.6 C599.3 1098.3 594.2 1101.9 589.1 1105.5 C584.0 1109.0 578.9 1112.6 573.8 1116.0 C568.7 1119.5 563.6 1122.9 558.5 1126.3 C553.4 1129.7 548.3 1133.0 543.2 1136.3 C538.1 1139.5 533.0 1142.7 527.9 1145.9 C522.8 1149.1 517.7 1152.2 512.6 1155.3 C507.5 1158.3 502.4 1161.3 497.3 1164.3 C492.2 1167.2 484.6 1171.5 482.0 1173.0" fill="none" stroke="#ff0fe8" stroke-width="7.6" stroke-linejoin="round" stroke-linecap="round" />
<path d="M482.0 1173.0 C484.3 1172.8 491.2 1172.3 495.9 1171.8 C500.5 1171.3 505.1 1170.7 509.7 1170.1 C514.3 1169.4 519.0 1168.6 523.6 1167.8 C528.2 1166.9 532.8 1166.0 537.4 1165.0 C542.0 1163.9 546.7 1162.9 551.3 1161.7 C555.9 1160.6 560.5 1159.3 565.1 1158.1 C569.8 1156.8 574.4 1155.4 579.0 1154.0 C583.6 1152.6 588.2 1151.2 592.9 1149.7 C597.5 1148.2 602.1 1146.6 606.7 1145.1 C611.3 1143.5 616.0 1141.9 620.6 1140.2 C625.2 1138.5 629.8 1136.9 634.4 1135.1 C639.0 1133.4 643.7 1131.7 648.3 1129.9 C652.9 1128.2 657.5 1126.4 662.1 1124.6 C666.8 1122.8 671.4 1121.0 676.0 1119.2 C680.6 1117.4 685.2 1115.6 689.9 1113.7 C694.5 1111.9 699.1 1110.0 703.7 1108.2 C708.3 1106.3 713.0 1104.4 717.6 1102.4 C722.2 1100.5 726.8 1098.6 731.4 1096.6 C736.0 1094.6 740.7 1092.6 745.3 1090.6 C749.9 1088.6 754.5 1086.5 759.1 1084.4 C763.8 1082.3 768.4 1080.2 773.0 1078.1 C777.6 1075.9 782.2 1073.7 786.9 1071.5 C791.5 1069.3 796.1 1067.0 800.7 1064.7 C805.3 1062.4 810.0 1060.1 814.6 1057.7 C819.2 1055.3 823.8 1052.9 828.4 1050.4 C833.0 1048.0 837.7 1045.5 842.3 1042.9 C846.9 1040.3 851.5 1037.7 856.1 1035.1 C860.8 1032.4 865.4 1029.7 870.0 1026.9 C874.6 1024.2 879.2 1021.3 883.9 1018.5 C888.5 1015.7 893.1 1012.8 897.7 1009.9 C902.3 1007.0 907.0 1004.1 911.6 1001.2 C916.2 998.3 920.8 995.4 925.4 992.6 C930.0 989.7 934.7 987.0 939.3 984.1 C943.9 981.3 948.5 978.5 953.1 975.6 C957.8 972.7 962.4 969.8 967.0 966.8 C971.6 963.8 976.2 960.7 980.9 957.4 C985.5 954.2 990.1 950.8 994.7 947.3 C999.3 943.8 1004.0 940.2 1008.6 936.6 C1013.2 932.9 1017.8 929.1 1022.4 925.3 C1027.0 921.5 1031.7 917.6 1036.3 913.8 C1040.9 909.9 1045.5 905.9 1050.1 902.0 C1054.8 898.1 1059.4 894.1 1064.0 890.2 C1068.6 886.3 1073.2 882.3 1077.9 878.5 C1082.5 874.6 1087.1 870.8 1091.7 867.0 C1096.3 863.2 1101.0 859.5 1105.6 855.7 C1110.2 852.0 1114.8 848.2 1119.4 844.5 C1124.0 840.7 1128.7 837.0 1133.3 833.2 C1137.9 829.4 1142.5 825.6 1147.1 821.7 C1151.8 817.9 1158.7 812.0 1161.0 810.0" fill="none" stroke="#ff0fe8" stroke-width="7.6" stroke-linejoin="round" stroke-linecap="round" />
<path d="M1163.0 719.0 C1165.3 717.9 1172.3 714.7 1176.9 712.4 C1181.5 710.1 1186.2 707.7 1190.8 705.2 C1195.4 702.7 1200.1 700.2 1204.7 697.6 C1209.3 694.9 1214.0 692.2 1218.6 689.4 C1223.2 686.6 1227.9 683.8 1232.5 680.8 C1237.1 677.9 1241.8 674.9 1246.4 671.8 C1251.0 668.8 1255.7 665.6 1260.3 662.4 C1264.9 659.2 1269.6 656.0 1274.2 652.7 C1278.8 649.4 1283.5 646.0 1288.1 642.6 C1292.7 639.2 1297.4 635.7 1302.0 632.2 C1306.6 628.7 1311.3 625.1 1315.9 621.5 C1320.5 617.9 1325.2 614.2 1329.8 610.6 C1334.4 606.9 1339.1 603.1 1343.7 599.4 C1348.3 595.6 1353.0 591.8 1357.6 588.0 C1362.2 584.2 1366.9 580.4 1371.5 576.5 C1376.1 572.6 1380.8 568.7 1385.4 564.8 C1390.0 560.9 1394.7 557.0 1399.3 553.0 C1403.9 549.1 1408.6 545.1 1413.2 541.1 C1417.8 537.1 1422.5 533.2 1427.1 529.2 C1431.7 525.2 1436.4 521.2 1441.0 517.2 C1445.6 513.2 1450.3 509.2 1454.9 505.2 C1459.5 501.2 1464.2 497.2 1468.8 493.2 C1473.4 489.3 1478.1 485.3 1482.7 481.3 C1487.3 477.4 1492.0 473.4 1496.6 469.5 C1501.2 465.6 1505.9 461.6 1510.5 457.7 C1515.1 453.8 1519.8 450.0 1524.4 446.1 C1529.0 442.2 1533.7 438.4 1538.3 434.5 C1542.9 430.7 1547.6 426.9 1552.2 423.1 C1556.8 419.3 1561.5 415.5 1566.1 411.8 C1570.7 408.0 1575.4 404.3 1580.0 400.5 C1584.6 396.8 1589.3 393.1 1593.9 389.5 C1598.5 385.8 1603.2 382.1 1607.8 378.5 C1612.4 374.9 1617.1 371.3 1621.7 367.7 C1626.3 364.1 1631.0 360.5 1635.6 357.0 C1640.2 353.5 1644.9 350.0 1649.5 346.5 C1654.1 343.0 1658.8 339.6 1663.4 336.1 C1668.0 332.7 1672.7 329.3 1677.3 325.9 C1681.9 322.6 1686.6 319.2 1691.2 315.9 C1695.8 312.6 1700.5 309.3 1705.1 306.0 C1709.7 302.8 1714.4 299.6 1719.0 296.4 C1723.6 293.2 1728.3 290.0 1732.9 286.9 C1737.5 283.7 1742.2 280.6 1746.8 277.6 C1751.4 274.5 1756.1 271.5 1760.7 268.5 C1765.3 265.5 1770.0 262.5 1774.6 259.6 C1779.2 256.7 1783.9 253.8 1788.5 250.9 C1793.1 248.1 1797.8 245.3 1802.4 242.5 C1807.0 239.7 1811.7 237.0 1816.3 234.3 C1820.9 231.5 1825.6 228.9 1830.2 226.3 C1834.8 223.6 1841.8 219.8 1844.1 218.5" fill="none" stroke="#ff0fe8" stroke-width="7.6" stroke-linejoin="round" stroke-linecap="round" />
</g>
</g>
<g id="inset" filter="url(#b2)" font-family="'Liberation Serif', 'DejaVu Serif', serif" font-weight="bold" fill="#000">
<rect x="1260.5" y="716.7" width="580.1" height="435.3" fill="#fff"/>
<line x1="1258.5" y1="716.7" x2="1840.6" y2="716.7" stroke="#6e6e6e" stroke-width="5"/>
<g stroke="#111" stroke-width="4.5">
<line x1="1260.5" y1="714.7" x2="1260.5" y2="1154.0"/>
<line x1="1258.5" y1="1152.0" x2="1840.6" y2="1152.0"/>
<line x1="1260.5" y1="1107.9" x2="1266.5" y2="1107.9" stroke-width="4"/>
<line x1="1260.5" y1="1063.8" x2="1270.5" y2="1063.8" stroke-width="4"/>
<line x1="1260.5" y1="1019.7" x2="1266.5" y2="1019.7" stroke-width="4"/>
<line x1="1260.5" y1="975.6" x2="1270.5" y2="975.6" stroke-width="4"/>
<line x1="1260.5" y1="931.5" x2="1266.5" y2="931.5" stroke-width="4"/>
<line x1="1260.5" y1="887.4" x2="1270.5" y2="887.4" stroke-width="4"/>
<line x1="1260.5" y1="843.3" x2="1266.5" y2="843.3" stroke-width="4"/>
<line x1="1260.5" y1="799.2" x2="1270.5" y2="799.2" stroke-width="4"/>
<line x1="1260.5" y1="755.1" x2="1266.5" y2="755.1" stroke-width="4"/>
<line x1="1317.3" y1="1152.0" x2="1317.3" y2="1141.0" stroke-width="4"/>
<line x1="1375.5" y1="1152.0" x2="1375.5" y2="1146.0" stroke-width="4"/>
<line x1="1433.6" y1="1152.0" x2="1433.6" y2="1141.0" stroke-width="4"/>
<line x1="1491.8" y1="1152.0" x2="1491.8" y2="1146.0" stroke-width="4"/>
<line x1="1549.9" y1="1152.0" x2="1549.9" y2="1141.0" stroke-width="4"/>
<line x1="1608.0" y1="1152.0" x2="1608.0" y2="1146.0" stroke-width="4"/>
<line x1="1666.2" y1="1152.0" x2="1666.2" y2="1141.0" stroke-width="4"/>
<line x1="1724.3" y1="1152.0" x2="1724.3" y2="1146.0" stroke-width="4"/>
<line x1="1782.5" y1="1152.0" x2="1782.5" y2="1141.0" stroke-width="4"/>
</g>
<g stroke="#ee2a36" stroke-width="5.5">
<line x1="1840.6" y1="713.7" x2="1840.6" y2="1155.0"/>
<line x1="1840.6" y1="1152.0" x2="1829.6" y2="1152.0" stroke-width="4"/>
<line x1="1840.6" y1="1103.5" x2="1834.6" y2="1103.5" stroke-width="4"/>
<line x1="1840.6" y1="1054.9" x2="1829.6" y2="1054.9" stroke-width="4"/>
<line x1="1840.6" y1="1006.4" x2="1834.6" y2="1006.4" stroke-width="4"/>
<line x1="1840.6" y1="957.8" x2="1829.6" y2="957.8" stroke-width="4"/>
<line x1="1840.6" y1="909.3" x2="1834.6" y2="909.3" stroke-width="4"/>
<line x1="1840.6" y1="860.8" x2="1829.6" y2="860.8" stroke-width="4"/>
<line x1="1840.6" y1="812.2" x2="1834.6" y2="812.2" stroke-width="4"/>
<line x1="1840.6" y1="763.7" x2="1829.6" y2="763.7" stroke-width="4"/>
</g>
<g font-size="38" fill="#111">
<text x="1250" y="1165.0" text-anchor="end">0</text>
<text x="1250" y="1076.8" text-anchor="end">2</text>
<text x="1250" y="988.6" text-anchor="end">4</text>
<text x="1250" y="900.4" text-anchor="end">6</text>
<text x="1250" y="812.2" text-anchor="end">8</text>
<text x="1317.3" y="1192" text-anchor="middle">2</text>
<text x="1433.6" y="1192" text-anchor="middle">4</text>
<text x="1549.9" y="1192" text-anchor="middle">6</text>
<text x="1666.2" y="1192" text-anchor="middle">8</text>
<text x="1782.5" y="1192" text-anchor="middle">10</text>
</g>
<g font-size="37" fill="#ee2a36">
<text x="1851" y="1164.0">0.0</text>
<text x="1851" y="1066.9">0.4</text>
<text x="1851" y="969.8">0.8</text>
<text x="1851" y="872.8">1.2</text>
<text x="1851" y="775.7">1.6</text>
</g>
<text x="1546" y="1238" font-size="38" text-anchor="middle" fill="#222">Maximum Voltage (V)</text>
<text transform="translate(1201 949) rotate(-90)" font-size="38.5" text-anchor="middle" fill="#111">P<tspan font-size="33" dy="9">r</tspan><tspan dy="-9" xml:space="preserve">  (μC/cm</tspan><tspan font-size="23" dy="-16">2</tspan><tspan dy="16">)</tspan></text>
<text transform="translate(1939 953) rotate(-90)" font-size="39" text-anchor="middle" fill="#111">V<tspan font-size="28" dy="14">C</tspan><tspan dy="-14"> (V)</tspan></text>
<polyline points="1317.3,1121.0 1375.5,1076.4 1433.6,1011.6 1491.8,928.0 1549.9,858.9 1608.0,803.4 1666.2,784.4 1724.3,779.3 1782.5,775.4" fill="none" stroke="#1a1a1a" stroke-width="2.2"/>
<rect x="1313.3" y="1117.0" width="8" height="8" fill="#1a1a1a"/>
<rect x="1371.5" y="1072.4" width="8" height="8" fill="#1a1a1a"/>
<rect x="1429.6" y="1007.6" width="8" height="8" fill="#1a1a1a"/>
<rect x="1487.8" y="924.0" width="8" height="8" fill="#1a1a1a"/>
<rect x="1545.9" y="854.9" width="8" height="8" fill="#1a1a1a"/>
<rect x="1604.0" y="799.4" width="8" height="8" fill="#1a1a1a"/>
<rect x="1662.2" y="780.4" width="8" height="8" fill="#1a1a1a"/>
<rect x="1720.3" y="775.3" width="8" height="8" fill="#1a1a1a"/>
<rect x="1778.5" y="771.4" width="8" height="8" fill="#1a1a1a"/>
<polyline points="1317.3,1104.8 1375.5,1043.4 1433.6,978.2 1491.8,906.7 1549.9,851.2 1608.0,806.5 1666.2,789.0 1724.3,760.9 1782.5,756.4" fill="none" stroke="#ee2a36" stroke-width="2.2"/>
<rect x="1313.3" y="1100.8" width="8" height="8" fill="#ee2a36"/>
<rect x="1371.5" y="1039.4" width="8" height="8" fill="#ee2a36"/>
<rect x="1429.6" y="974.2" width="8" height="8" fill="#ee2a36"/>
<rect x="1487.8" y="902.7" width="8" height="8" fill="#ee2a36"/>
<rect x="1545.9" y="847.2" width="8" height="8" fill="#ee2a36"/>
<rect x="1604.0" y="802.5" width="8" height="8" fill="#ee2a36"/>
<rect x="1662.2" y="785.0" width="8" height="8" fill="#ee2a36"/>
<rect x="1720.3" y="756.9" width="8" height="8" fill="#ee2a36"/>
<rect x="1778.5" y="752.4" width="8" height="8" fill="#ee2a36"/>
</g>
</svg>
</body></html>
